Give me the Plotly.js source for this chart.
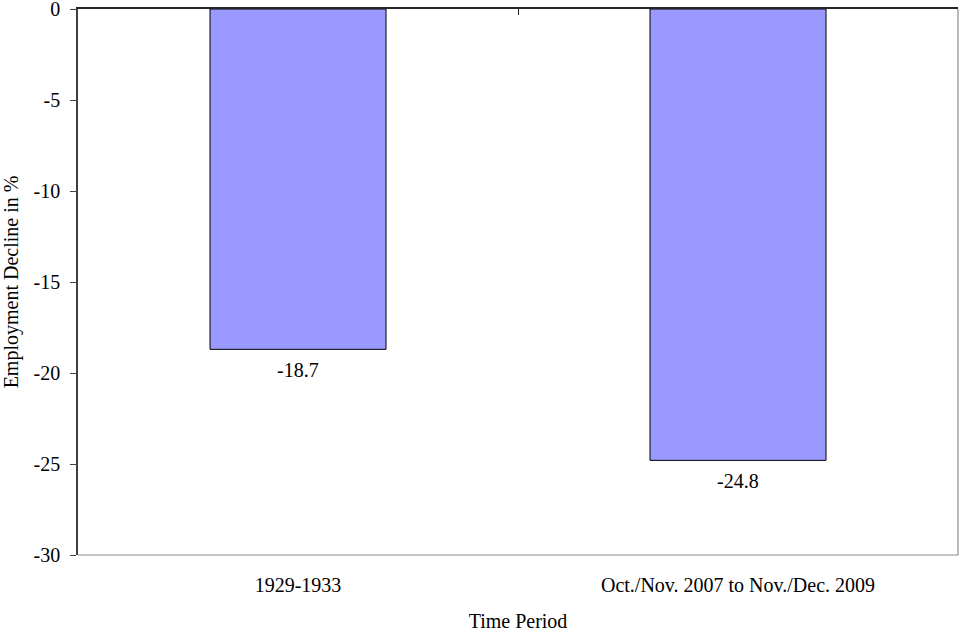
<!DOCTYPE html>
<html>
<head>
<meta charset="utf-8">
<script src="https://cdn.plot.ly/plotly-3.0.1.min.js"></script>
<style>
  html, body { margin: 0; padding: 0; background: #fff; }
  #chart { width: 960px; height: 632px; }
</style>
</head>
<body>
<div id="chart"></div>
<script>
// Employment decline by period
const periods = ["1929-1933", "Oct./Nov. 2007 to Nov./Dec. 2009"];
const declines = [-18.7, -24.8];
const yTicks = [0, -5, -10, -15, -20, -25, -30];

const serif = "Liberation Serif, Times New Roman, serif";
const txt = { family: serif, size: 20, color: "#000" };

const bars = {
  type: "bar",
  x: periods,
  y: declines,
  marker: { color: "#9999FF", line: { color: "#000000", width: 1 } },
  width: 0.4,
  hoverinfo: "x+y",
  showlegend: false
};

// value labels set just under each bar end
const valueLabels = periods.map((p, i) => ({
  x: p,
  y: declines[i],
  xref: "x",
  yref: "y",
  text: String(declines[i]),
  showarrow: false,
  yanchor: "top",
  yshift: -8,
  font: txt
}));

const layout = {
  width: 960,
  height: 632,
  margin: { l: 78, r: 2, t: 9, b: 77 },
  paper_bgcolor: "#ffffff",
  plot_bgcolor: "#ffffff",
  font: txt,
  xaxis: {
    type: "category",
    range: [-0.5, 1.5],
    showline: false,
    showgrid: false,
    zeroline: false,
    ticks: "",
    ticklabelstandoff: 16,
    tickfont: txt,
    title: { text: "Time Period", standoff: 21, font: txt },
    automargin: false,
    fixedrange: true
  },
  xaxis2: {
    overlaying: "x",
    side: "top",
    range: [-0.5, 1.5],
    showline: true,
    linecolor: "#262626",
    linewidth: 1.5,
    ticks: "inside",
    ticklen: 6,
    tickwidth: 1,
    tickcolor: "#262626",
    tickvals: [0.5],
    showticklabels: false,
    showgrid: false,
    zeroline: false,
    fixedrange: true
  },
  yaxis: {
    range: [-30, 0],
    tickvals: yTicks,
    ticktext: yTicks.map(String),
    showline: true,
    linecolor: "#404040",
    linewidth: 1.5,
    ticks: "outside",
    ticklen: 6,
    tickwidth: 1,
    tickcolor: "#404040",
    ticklabelstandoff: 6,
    ticklabeloverflow: "allow",
    showgrid: false,
    zeroline: false,
    tickfont: txt,
    title: { text: "Employment Decline in %", standoff: 12, font: txt },
    automargin: false,
    fixedrange: true
  },
  shapes: [
    // right and bottom edges of the plot frame
    { type: "line", xref: "paper", yref: "paper", x0: 1, x1: 1, y0: 0, y1: 1, line: { color: "#8c8c8c", width: 1.2 } },
    { type: "line", xref: "paper", yref: "paper", x0: 0, x1: 1, y0: 0, y1: 0, line: { color: "#8c8c8c", width: 1.2 } }
  ],
  annotations: valueLabels,
  bargap: 0.6
};

// empty trace so the top axis is drawn
const topAxisTrace = { type: "scatter", x: [], y: [], xaxis: "x2", yaxis: "y", showlegend: false, hoverinfo: "skip" };

Plotly.newPlot("chart", [bars, topAxisTrace], layout, { displayModeBar: false });
</script>
</body>
</html>
